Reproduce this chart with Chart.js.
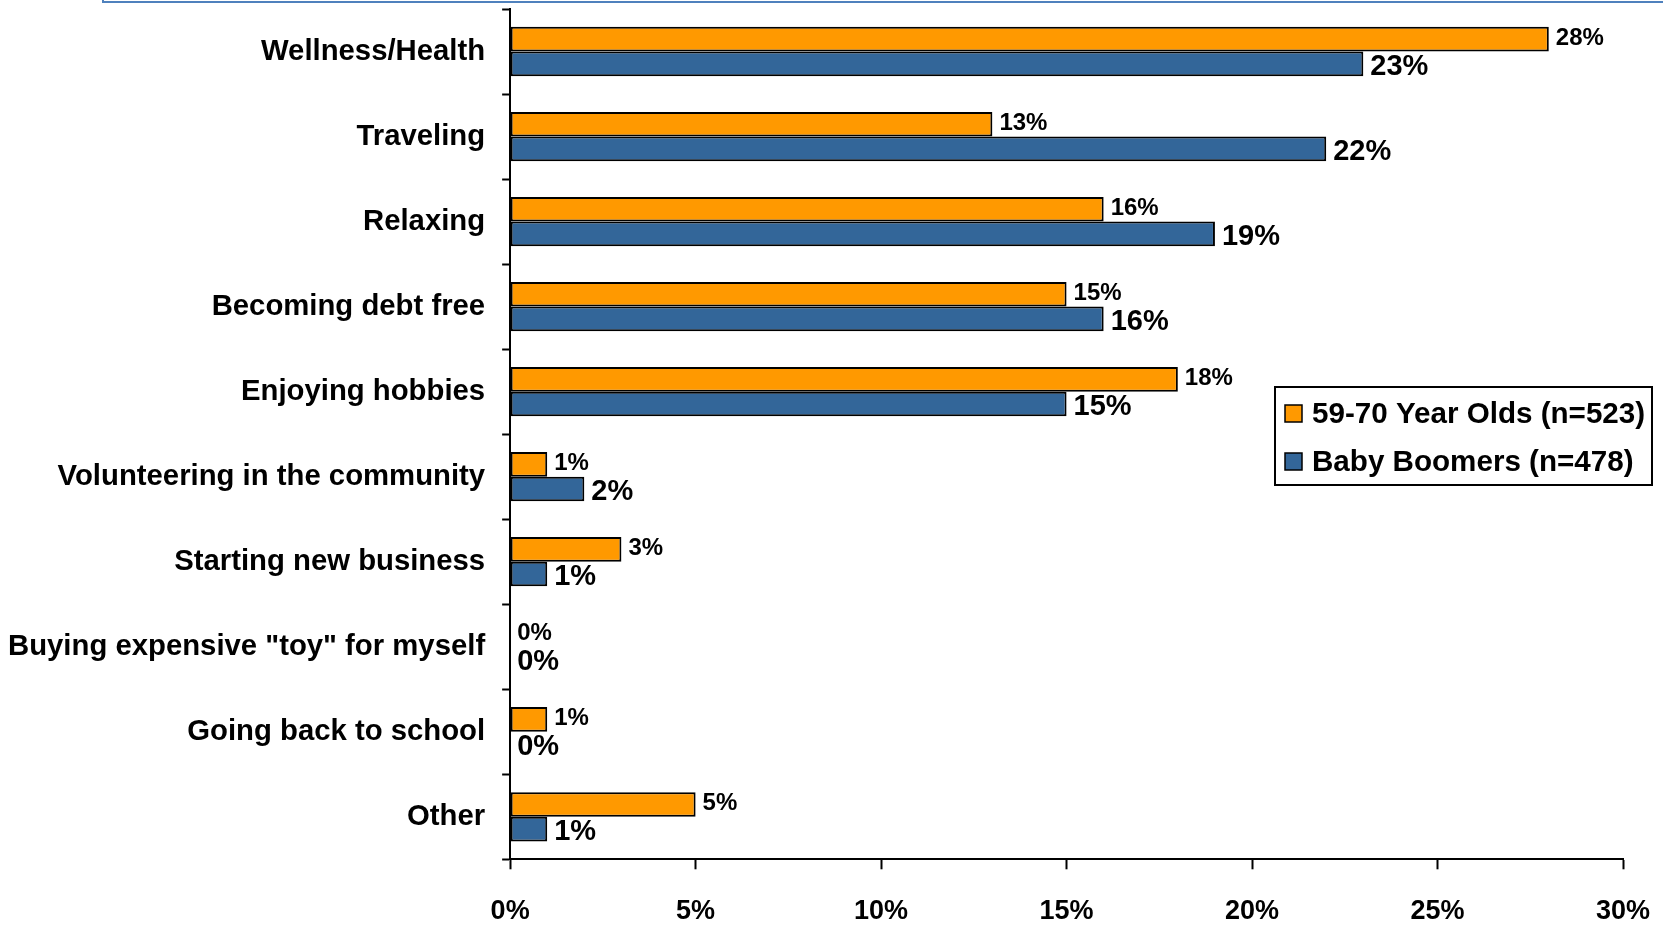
<!DOCTYPE html>
<html>
<head>
<meta charset="utf-8">
<script src="https://cdn.jsdelivr.net/npm/chart.js@4.4.1/dist/chart.umd.min.js"></script>
<style>
  html, body { margin: 0; padding: 0; background: #fff; }
  #wrap { position: relative; width: 1663px; height: 925px; }
  #frame { position: absolute; left: 102px; top: -4px; width: 1570px; height: 5px;
           border: 2px solid #4f81bd; border-top: none; }
</style>
</head>
<body>
<div id="wrap">
  <div id="frame"></div>
  <canvas id="chart" width="1663" height="925"></canvas>
</div>
<script>
const categories = [
    'Wellness/Health', 'Traveling', 'Relaxing', 'Becoming debt free', 'Enjoying hobbies',
    'Volunteering in the community', 'Starting new business', 'Buying expensive "toy" for myself',
    'Going back to school', 'Other'
];
const olds5970 = [28, 13, 16, 15, 18, 1, 3, 0, 1, 5];
const boomers = [23, 22, 19, 16, 15, 2, 1, 0, 0, 1];
const seriesNames = ['59-70 Year Olds (n=523)', 'Baby Boomers (n=478)'];
const xTicks = [0, 5, 10, 15, 20, 25, 30];

const FONT = "'Liberation Sans', Arial, sans-serif";

// value labels next to each bar
const barLabels = {
    id: 'barLabels',
    afterDatasetsDraw(chart) {
        const ctx = chart.ctx;
        ctx.save();
        ctx.fillStyle = '#000';
        ctx.textAlign = 'left';
        ctx.textBaseline = 'middle';
        chart.data.datasets.forEach((ds, i) => {
            const meta = chart.getDatasetMeta(i);
            ctx.font = i === 0 ? 'bold 24px ' + FONT : 'bold 29px ' + FONT;
            meta.data.forEach((bar, j) => {
                const dy = i === 0 ? -1 : 3;
                ctx.fillText(ds.data[j] + '%', bar.x + 7, bar.y + dy);
            });
        });
        ctx.restore();
    }
};

// boxed legend inside the plot
const boxLegend = {
    id: 'boxLegend',
    afterDraw(chart) {
        const ctx = chart.ctx;
        const x = 1275, y = 387, w = 377, h = 98;
        ctx.save();
        ctx.strokeStyle = '#000';
        ctx.lineWidth = 2;
        ctx.fillStyle = '#fff';
        ctx.fillRect(x, y, w, h);
        ctx.strokeRect(x, y, w, h);
        ctx.font = 'bold 29.6px ' + FONT;
        ctx.textBaseline = 'middle';
        chart.data.datasets.forEach((ds, i) => {
            const cy = y + 27 + i * 48;
            ctx.fillStyle = ds.backgroundColor;
            ctx.fillRect(x + 10, cy - 9, 17, 17);
            ctx.lineWidth = 1.5;
            ctx.strokeRect(x + 10, cy - 9, 17, 17);
            ctx.fillStyle = '#000';
            ctx.fillText(ds.label, x + 37, cy + 1);
        });
        ctx.restore();
    }
};

new Chart(document.getElementById('chart'), {
    type: 'bar',
    data: {
        labels: categories,
        datasets: [
            { label: seriesNames[0], data: olds5970, backgroundColor: '#ff9900',
              borderColor: '#000', borderWidth: 2, borderSkipped: false },
            { label: seriesNames[1], data: boomers, backgroundColor: '#336699',
              borderColor: '#000', borderWidth: 2, borderSkipped: false }
        ]
    },
    options: {
        indexAxis: 'y',
        responsive: false,
        animation: false,
        layout: { padding: { top: 9, right: 40, left: -9, bottom: -28 } },
        datasets: { bar: { categoryPercentage: 0.58, barPercentage: 1.0 } },
        plugins: {
            legend: { display: false },
            tooltip: { enabled: false }
        },
        scales: {
            x: {
                min: 0, max: 30,
                afterBuildTicks: (axis) => { axis.ticks = xTicks.map(v => ({ value: v })); },
                afterFit: (axis) => { axis.paddingLeft = 0; axis.paddingRight = 0; },
                ticks: {
                    callback: v => v + '%',
                    font: { family: FONT, size: 27, weight: 'bold', lineHeight: 1.1 },
                    color: '#000',
                    padding: 27
                },
                grid: { drawOnChartArea: false, tickLength: 10, tickColor: '#000', tickWidth: 2 },
                border: { color: '#000', width: 2 }
            },
            y: {
                afterFit: (axis) => { axis.paddingTop = 0; axis.paddingBottom = 0; },
                ticks: {
                    font: { family: FONT, size: 29.3, weight: 'bold' },
                    color: '#000',
                    padding: 17
                },
                grid: { drawOnChartArea: false, offset: true, tickLength: 8, tickColor: '#000', tickWidth: 2 },
                border: { color: '#000', width: 2 }
            }
        }
    },
    plugins: [barLabels, boxLegend]
});
</script>
</body>
</html>
